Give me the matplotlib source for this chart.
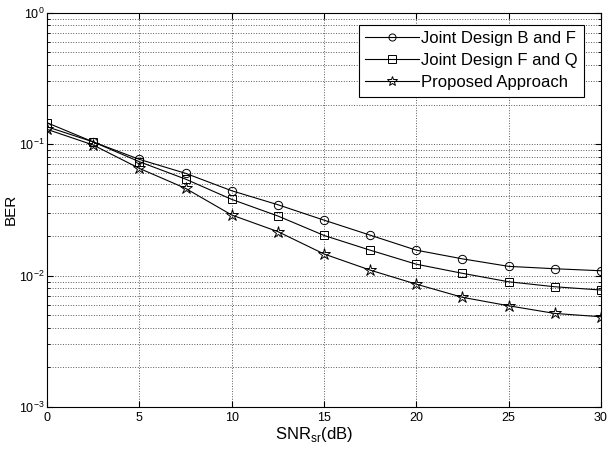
import numpy as np
import matplotlib
matplotlib.use("Agg")
import matplotlib.pyplot as plt
from matplotlib.ticker import LogLocator, NullFormatter, MultipleLocator

plt.rcParams['font.family'] = ['Liberation Sans', 'DejaVu Sans']
plt.rcParams['mathtext.fontset'] = 'custom'
plt.rcParams['mathtext.rm'] = 'Liberation Sans'

# SNR_sr values (dB)
snr_db = [0, 2.5, 5, 7.5, 10, 12.5, 15, 17.5, 20, 22.5, 25, 27.5, 30]

# BER
ber_bf = [0.1356, 0.104, 0.0766, 0.060, 0.0442, 0.0346, 0.0264, 0.0203,
          0.0156, 0.0134, 0.01175, 0.01127, 0.01088]
ber_fq = [0.1455, 0.104, 0.0735, 0.0542, 0.038, 0.0284, 0.0202, 0.0156,
          0.0122, 0.0104, 0.00897, 0.00822, 0.00776]
ber_prop = [0.1296, 0.0985, 0.0654, 0.0461, 0.0289, 0.0216, 0.0146, 0.0110,
            0.0086, 0.00683, 0.00589, 0.00515, 0.00486]

labels = ['Joint Design B and F', 'Joint Design F and Q', 'Proposed Approach']

fig = plt.figure(figsize=(6.16, 4.54), dpi=100)
ax = fig.add_axes([47 / 616, 1 - 407 / 454, 554 / 616, (407 - 12.7) / 454])

ax.semilogy(snr_db, ber_bf, '-o', color='k', lw=0.8, ms=6, mfc='none', mew=0.7, label=labels[0])
ax.semilogy(snr_db, ber_fq, '-s', color='k', lw=0.8, ms=6, mfc='none', mew=0.7, label=labels[1])
ax.semilogy(snr_db, ber_prop, '-*', color='k', lw=0.8, ms=9, mfc='none', mew=0.7, label=labels[2])

ax.set_xlim(0, 30)
ax.set_ylim(1e-3, 1e0)
ax.xaxis.set_major_locator(MultipleLocator(5))
ax.yaxis.set_major_locator(LogLocator(base=10, numticks=10))
ax.yaxis.set_minor_locator(LogLocator(base=10, subs=np.arange(2, 10), numticks=10))
ax.yaxis.set_minor_formatter(NullFormatter())

ax.grid(True, which='major', linestyle=':', color='0.35', lw=0.7)
ax.grid(True, which='minor', axis='y', linestyle=':', color='0.35', lw=0.7)
ax.tick_params(which='both', direction='in', top=True, right=True, labelsize=9)
ax.tick_params(which='major', length=4)
ax.tick_params(which='minor', length=2)
ax.tick_params(axis='y', pad=2)
for sp in ax.spines.values():
    sp.set_linewidth(0.8)

ax.set_xlabel('SNR$_{\\mathregular{sr}}$(dB)', fontsize=12)
ax.xaxis.set_label_coords(0.482, -0.045, transform=ax.transAxes)
ax.xaxis.label.set_va('top')
ax.set_ylabel('BER', fontsize=11)
ax.yaxis.set_label_coords(-0.052, 0.5)

leg = ax.legend(loc='upper right', bbox_to_anchor=(0.97, 0.97), fontsize=12,
                fancybox=False, framealpha=1, edgecolor='k', handlelength=3.2,
                borderpad=0.4, labelspacing=0.42, handletextpad=0.15, borderaxespad=0,
                markerscale=0.85)
leg.get_frame().set_linewidth(0.8)

fig.savefig('out.png', dpi=100)
